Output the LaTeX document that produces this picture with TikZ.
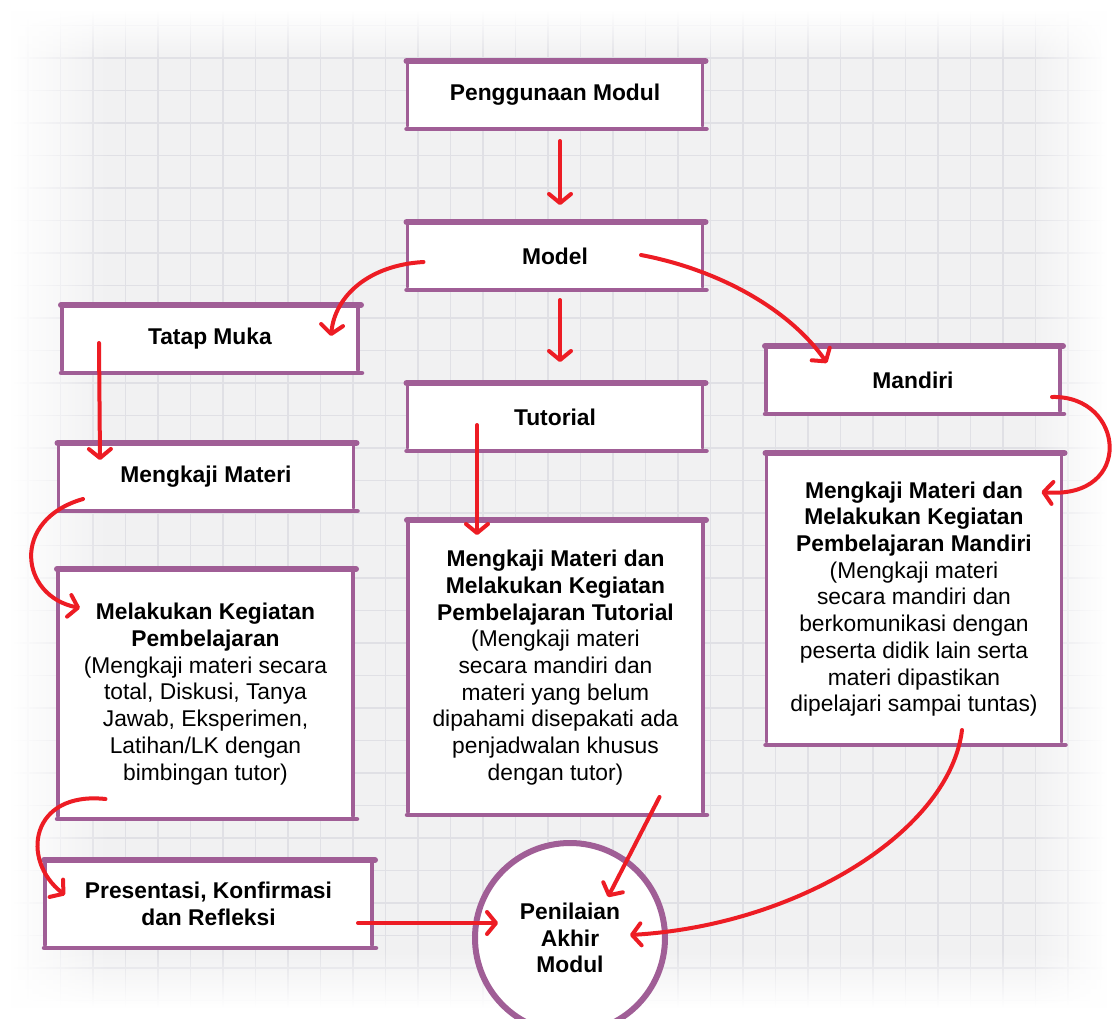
\documentclass[tikz,border=0pt]{standalone}
\usepackage{fontspec}
\setmainfont{Liberation Sans}
\usetikzlibrary{arrows.meta,fadings}
\definecolor{pur}{HTML}{A05E96}
\definecolor{arr}{HTML}{ED1C24}
\definecolor{bg}{HTML}{F1F1F2}
\definecolor{gridc}{HTML}{E0E0E5}
\tikzfading[name=fadeR, left color=transparent!0, right color=transparent!100]
\tikzfading[name=fadeL, left color=transparent!100, right color=transparent!0]
\tikzfading[name=fadeD, top color=transparent!0, bottom color=transparent!100]
\tikzfading[name=fadeU, top color=transparent!100, bottom color=transparent!0]
\begin{document}
\begin{tikzpicture}[x=1pt,y=-1pt,
  box/.style={fill=white, inner sep=0pt, outer sep=0pt, align=center,
    font=\fontsize{22.8}{26.7}\selectfont},
  sbox/.style={box, minimum width=295pt, minimum height=68pt},
  conn/.style={draw=arr, line width=4pt, line cap=round,
    -{Straight Barb[length=9pt,width=22pt,round]}},
  edge side/.style={pur, line width=3.5pt, line cap=round},
  edge top/.style={pur, line width=6pt, line cap=round},
  edge bot/.style={pur, line width=4.5pt, line cap=round},
]
\useasboundingbox (0,0) rectangle (1117,1018);
\clip (0,0) rectangle (1117,1018);
% background
\fill[bg] (0,0) rectangle (1117,1018);
\foreach \i in {0,...,34} \draw[gridc, line width=1.5pt] ({28+32.5*\i},0) -- ++(0,1018);
\foreach \i in {0,...,31} \draw[gridc, line width=1.5pt] (0,{-7+32.5*\i}) -- ++(1117,0);
\fill[white, path fading=fadeR] (10,0) rectangle (110,1018);
\fill[white, path fading=fadeD] (0,10) rectangle (1117,60);
\fill[white, path fading=fadeL] (1030,0) rectangle (1107,1018);
\fill[white, path fading=fadeU] (0,950) rectangle (1117,1008);
\fill[white] (0,0) rectangle (10.5,1018);
\fill[white] (0,0) rectangle (1117,10.5);
\fill[white] (1106.5,0) rectangle (1117,1018);
\fill[white] (0,1007.5) rectangle (1117,1018);

% nodes
\node[sbox] (pm) at (555,95) {\textbf{Penggunaan Modul}};
\node[sbox] (model) at (555,256) {\textbf{Model}};
\node[sbox, minimum width=296pt] (tatap) at (210,339) {\textbf{Tatap Muka}};
\node[sbox] (tutorial) at (555,417) {\textbf{Tutorial}};
\node[sbox, minimum width=294pt] (mandiri) at (913,380) {\textbf{Mandiri}};
\node[sbox] (mk) at (206,477) {\textbf{Mengkaji Materi}};
\node[box, minimum width=295pt, minimum height=250pt] (mel) at (205.5,694)
  {\textbf{Melakukan Kegiatan}\\\textbf{Pembelajaran}\\(Mengkaji materi secara\\total, Diskusi, Tanya\\Jawab, Eksperimen,\\Latihan/LK dengan\\bimbingan tutor)};
\node[box, minimum width=295pt, minimum height=295pt] (tutbig) at (555.5,667.5)
  {\textbf{Mengkaji Materi dan}\\\textbf{Melakukan Kegiatan}\\\textbf{Pembelajaran Tutorial}\\(Mengkaji materi\\secara mandiri dan\\materi yang belum\\dipahami disepakati ada\\penjadwalan khusus\\dengan tutor)};
\node[box, minimum width=295pt, minimum height=292pt] (manbig) at (914,599)
  {\textbf{Mengkaji Materi dan}\\\textbf{Melakukan Kegiatan}\\\textbf{Pembelajaran Mandiri}\\(Mengkaji materi\\secara mandiri dan\\berkomunikasi dengan\\peserta didik lain serta\\materi dipastikan\\dipelajari sampai tuntas)};
\node[box, minimum width=327pt, minimum height=88pt] (pres) at (208.5,904)
  {\textbf{Presentasi, Konfirmasi}\\\textbf{dan Refleksi}};

\foreach \n in {pm,model,tatap,tutorial,mandiri,mk,mel,tutbig,manbig,pres} {
  \draw[edge side] ([yshift=-3pt]\n.north west) -- ([yshift=3pt]\n.south west);
  \draw[edge side] ([yshift=-3pt]\n.north east) -- ([yshift=3pt]\n.south east);
  \draw[edge top] ([xshift=-1pt]\n.north west) -- ([xshift=3pt]\n.north east);
  \draw[edge bot] ([xshift=-1pt]\n.south west) -- ([xshift=4pt]\n.south east);
}

\node[circle, fill=white, draw=pur, line width=6pt, minimum size=190pt, inner sep=0pt,
  align=center, font=\fontsize{22.8}{26.7}\selectfont\bfseries] (circ) at (570,938)
  {Penilaian\\Akhir\\Modul};

% connectors
\draw[conn] ([shift={(5,12)}]pm.south) -- ([shift={(5,-17)}]model.north);
\draw[conn] ([shift={(5,10)}]model.south) -- ([shift={(5,-21)}]tutorial.north);
\draw[conn] ([shift={(16,6)}]model.west) .. controls +(-53.5,3) and +(4,-41) .. ([shift={(-27,-3)}]tatap.east);
\draw[conn] ([shift={(86,-1)}]model.center) .. controls +(79,15) and +(-37,-53) .. ([shift={(61,-17)}]mandiri.west);
\draw[conn] ([shift={(-111,4)}]tatap.center) -- ([shift={(-106,-17)}]mk.center);
\draw[conn] ([shift={(-123,22)}]mk.center) .. controls +(-73,21) and +(-60,-12) .. ([shift={(22,-86)}]mel.west);
\draw[conn] ([shift={(-100,105)}]mel.center) .. controls +(-75,-8) and +(-45,-35) .. ([shift={(20,-9)}]pres.west);
\draw[conn] ([shift={(-14,19)}]pres.east) -- ([shift={(-72,-15)}]circ.center);
\draw[conn] ([shift={(-78,8)}]tutorial.center) -- ([shift={(-78.5,15)}]tutbig.north);
\draw[conn] ([shift={(104,-18)}]tutbig.south) -- ([shift={(38,-41)}]circ.center);
\draw[conn] ([shift={(-8,17)}]mandiri.east) .. controls +(73,-2) and +(93.5,8) .. ([shift={(-20,-107)}]manbig.east);
\draw[conn] ([shift={(48,-15)}]manbig.south) .. controls +(-12,100) and +(170,-10) .. ([shift={(60,-3)}]circ.center);
\end{tikzpicture}
\end{document}
